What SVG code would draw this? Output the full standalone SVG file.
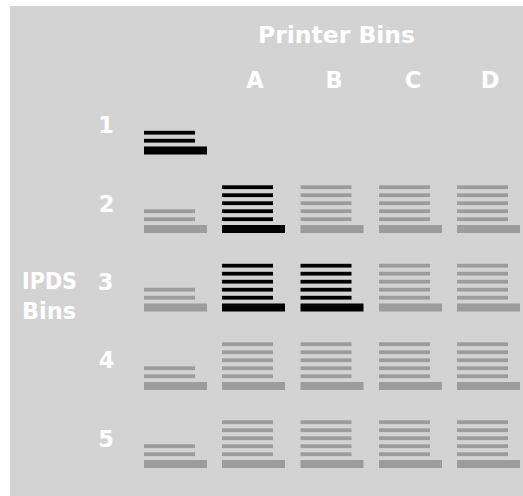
<svg xmlns="http://www.w3.org/2000/svg" xmlns:xlink="http://www.w3.org/1999/xlink" width="523" height="496" viewBox="0 0 523 496">
<style>
.lbl{font-family:"DejaVu Sans","Liberation Sans",sans-serif;font-weight:bold;fill:#ffffff;}
.on{fill:#000000;}
.off{fill:#9c9c9c;}
</style>
<defs>
<g id="s5">
<rect x="0" y="0" width="63" height="8"/>
<rect x="0" y="-7.7" width="51" height="3.8"/>
<rect x="0" y="-15.7" width="51" height="3.8"/>
<rect x="0" y="-23.7" width="51" height="3.8"/>
<rect x="0" y="-31.7" width="51" height="3.8"/>
<rect x="0" y="-39.7" width="51" height="3.8"/>
</g>
<g id="s2">
<rect x="0" y="0" width="63" height="8"/>
<rect x="0" y="-7.7" width="51" height="3.8"/>
<rect x="0" y="-15.7" width="51" height="3.8"/>
</g>
</defs>
<rect x="0" y="0" width="523" height="496" fill="#ffffff"/>
<rect x="10" y="6" width="513" height="490" fill="#d3d3d3"/>
<g id="title">
<text class="lbl" x="258" y="43" font-size="22.5" textLength="157" lengthAdjust="spacingAndGlyphs">Printer Bins</text>
</g>
<g id="cols" font-size="22.5">
<text class="lbl" x="255" y="88" text-anchor="middle">A</text>
<text class="lbl" x="334" y="88" text-anchor="middle">B</text>
<text class="lbl" x="413" y="88" text-anchor="middle">C</text>
<text class="lbl" x="490" y="88" text-anchor="middle">D</text>
</g>
<g id="ipds" font-size="22.5">
<text class="lbl" x="22" y="288.5" textLength="55" lengthAdjust="spacingAndGlyphs">IPDS</text>
<text class="lbl" x="22" y="318.5" textLength="54" lengthAdjust="spacingAndGlyphs">Bins</text>
</g>
<g id="rows" font-size="22.5">
<text class="lbl" x="106" y="133" text-anchor="middle">1</text>
<text class="lbl" x="106.5" y="211.5" text-anchor="middle">2</text>
<text class="lbl" x="105.5" y="289.5" text-anchor="middle">3</text>
<text class="lbl" x="106.5" y="368" text-anchor="middle">4</text>
<text class="lbl" x="106" y="446.5" text-anchor="middle">5</text>
</g>
<g id="row1">
<use xlink:href="#s2" class="on" x="144" y="146.5"/>
</g>
<g id="row2">
<use xlink:href="#s2" class="off" x="144" y="225"/>
<use xlink:href="#s5" class="on" x="222" y="225"/>
<use xlink:href="#s5" class="off" x="300.5" y="225"/>
<use xlink:href="#s5" class="off" x="379" y="225"/>
<use xlink:href="#s5" class="off" x="457" y="225"/>
</g>
<g id="row3">
<use xlink:href="#s2" class="off" x="144" y="303.5"/>
<use xlink:href="#s5" class="on" x="222" y="303.5"/>
<use xlink:href="#s5" class="on" x="300.5" y="303.5"/>
<use xlink:href="#s5" class="off" x="379" y="303.5"/>
<use xlink:href="#s5" class="off" x="457" y="303.5"/>
</g>
<g id="row4">
<use xlink:href="#s2" class="off" x="144" y="382"/>
<use xlink:href="#s5" class="off" x="222" y="382"/>
<use xlink:href="#s5" class="off" x="300.5" y="382"/>
<use xlink:href="#s5" class="off" x="379" y="382"/>
<use xlink:href="#s5" class="off" x="457" y="382"/>
</g>
<g id="row5">
<use xlink:href="#s2" class="off" x="144" y="460"/>
<use xlink:href="#s5" class="off" x="222" y="460"/>
<use xlink:href="#s5" class="off" x="300.5" y="460"/>
<use xlink:href="#s5" class="off" x="379" y="460"/>
<use xlink:href="#s5" class="off" x="457" y="460"/>
</g>
</svg>
